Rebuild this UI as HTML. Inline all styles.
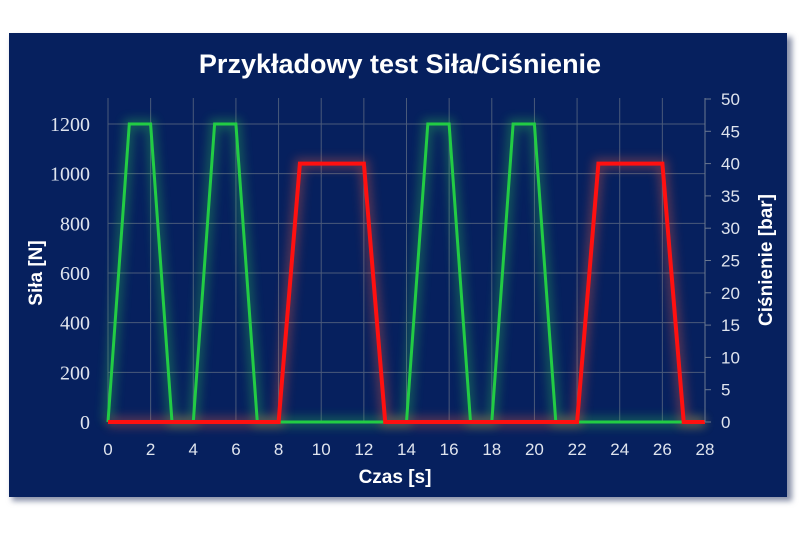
<!DOCTYPE html>
<html><head><meta charset="utf-8">
<style>
html,body{margin:0;padding:0;background:#fff;}
svg{display:block;}
</style></head>
<body>
<svg id="chart" width="800" height="533" xmlns="http://www.w3.org/2000/svg">
  <defs>
    <filter id="glow" x="-20%" y="-20%" width="140%" height="140%">
      <feGaussianBlur stdDeviation="5"/>
    </filter>
    <filter id="shadow" x="-5%" y="-5%" width="110%" height="110%">
      <feGaussianBlur stdDeviation="3"/>
    </filter>
  </defs>
  <rect x="12" y="37" width="780" height="464" fill="#8890a8" filter="url(#shadow)"/>
  <rect x="9" y="33" width="778" height="464" fill="#06205e"/>
  <text x="400" y="73" text-anchor="middle" fill="#fff" font-family="Liberation Sans, sans-serif" font-weight="bold" font-size="27">Przykładowy test Siła/Ciśnienie</text>
  <g id="grid"></g>
  <g id="glows"></g>
  <g id="lines"></g>
  <g id="axes"></g>
  <text transform="translate(42,273) rotate(-90)" text-anchor="middle" fill="#fff" font-family="Liberation Sans, sans-serif" font-weight="bold" font-size="19">Siła [N]</text>
  <text transform="translate(772,260) rotate(-90)" text-anchor="middle" fill="#fff" font-family="Liberation Sans, sans-serif" font-weight="bold" font-size="19">Ciśnienie [bar]</text>
  <text x="395" y="483" text-anchor="middle" fill="#fff" font-family="Liberation Sans, sans-serif" font-weight="bold" font-size="19">Czas [s]</text>
</svg>
<script>
const forceTimes = [0,1,2,3,4,5,6,7,14,15,16,17,18,19,20,21,28];
const forceValues = [0,1200,1200,0,0,1200,1200,0,0,1200,1200,0,0,1200,1200,0,0];
const pressureTimes = [0,8,9,12,13,22,23,26,27,28];
const pressureValues = [0,0,40,40,0,0,40,40,0,0];
const xTicks = [0,2,4,6,8,10,12,14,16,18,20,22,24,26,28];
const leftTicks = [0,200,400,600,800,1000,1200];
const rightTicks = [0,5,10,15,20,25,30,35,40,45,50];

const X0=108, X1=705, Y0=422;
const xS = t => X0 + (t/28)*(X1-X0);
const yL = v => Y0 - v*(298/1200);
const yR = v => Y0 - v*(323/50);
const NS='http://www.w3.org/2000/svg';
function mk(tag, attrs, parent){const e=document.createElementNS(NS,tag);for(const k in attrs)e.setAttribute(k,attrs[k]);parent.appendChild(e);return e;}
const grid=document.getElementById('grid'), axes=document.getElementById('axes'), lines=document.getElementById('lines'), glows=document.getElementById('glows');

xTicks.forEach(t=>{
  const l=mk('line',{x1:xS(t),x2:xS(t),y1:98,y2:Y0,stroke:'#4a5a7a','stroke-width':1},grid);
  
  
  const tx=mk('text',{x:xS(t),y:Y0+33,'text-anchor':'middle',fill:'#dfe4ee','font-family':'Liberation Sans, sans-serif','font-size':17},axes);
  tx.textContent=t;
  
  
});
leftTicks.forEach(v=>{
  const l=mk('line',{x1:X0,x2:X1,y1:yL(v),y2:yL(v),stroke:'#4a5a7a','stroke-width':1},grid);
  
  
  const tx=mk('text',{x:90,y:yL(v)+7,'text-anchor':'end',fill:'#dfe4ee','font-family':'Liberation Serif, serif','font-size':20},axes);
  tx.textContent=v;
  
  
});
const ax=mk('line',{x1:X1,x2:X1,y1:98,y2:Y0,stroke:'#6a7890','stroke-width':1},axes);


rightTicks.forEach(v=>{
  const tk=mk('line',{x1:X1,x2:X1+6,y1:yR(v),y2:yR(v),stroke:'#6a7890','stroke-width':1},axes);
  
  
  const tx=mk('text',{x:721,y:yR(v)+6,'text-anchor':'start',fill:'#dfe4ee','font-family':'Liberation Sans, sans-serif','font-size':17},axes);
  tx.textContent=v;
  
  
});

function pts(ts,vs,ys){return ts.map((t,i)=>xS(t).toFixed(1)+','+ys(vs[i]).toFixed(1)).join(' ');}
const fp=pts(forceTimes,forceValues,yL), pp=pts(pressureTimes,pressureValues,yR);
const g1=mk('polyline',{points:fp,fill:'none',stroke:'#2ecc55','stroke-width':10,opacity:0.35,filter:'url(#glow)'},glows);


const g2=mk('polyline',{points:pp,fill:'none',stroke:'#ff6040','stroke-width':10,opacity:0.35,filter:'url(#glow)'},glows);


const l1=mk('polyline',{points:fp,fill:'none',stroke:'#22cc44','stroke-width':3,'stroke-linejoin':'miter'},lines);


const l2=mk('polyline',{points:pp,fill:'none',stroke:'#ff1010','stroke-width':4,'stroke-linejoin':'miter'},lines);


</script>
</body></html>
